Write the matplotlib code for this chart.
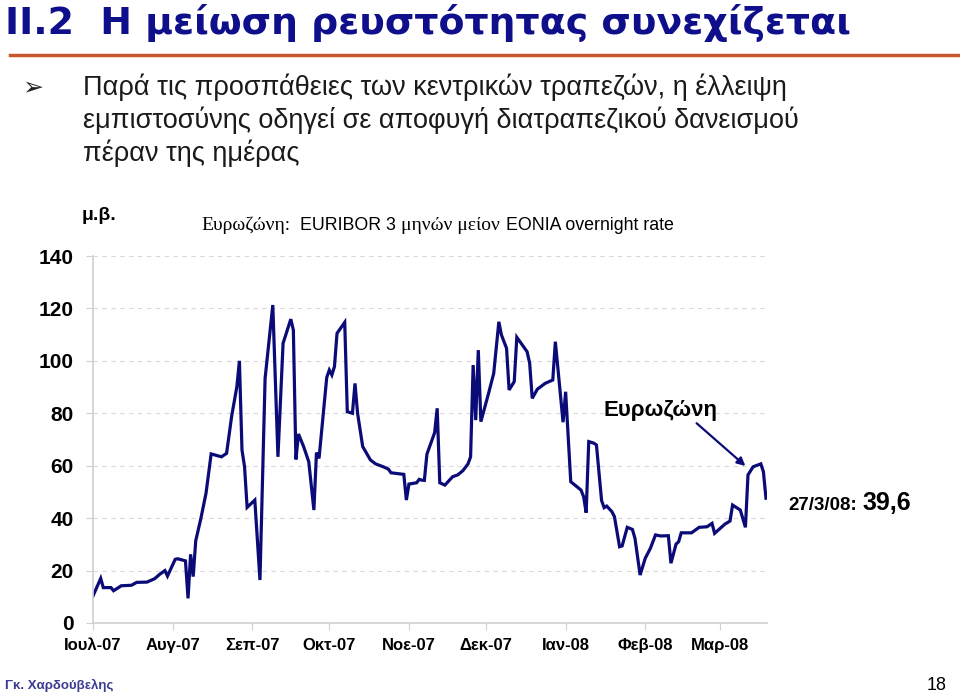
import matplotlib
matplotlib.use("Agg")
import matplotlib.pyplot as plt
import matplotlib.dates as mdates
import pandas as pd

# ---------------------------------------------------------------------------
# Data: EURIBOR 3M minus EONIA spread, basis points
# ---------------------------------------------------------------------------
dates = [
    "2007-07-01", "2007-07-04", "2007-07-05", "2007-07-08", "2007-07-09",
    "2007-07-12", "2007-07-16", "2007-07-18", "2007-07-22", "2007-07-25",
    "2007-07-27", "2007-07-29", "2007-07-30", "2007-08-02", "2007-08-03",
    "2007-08-06", "2007-08-07", "2007-08-08", "2007-08-09", "2007-08-10",
    "2007-08-12", "2007-08-14", "2007-08-16", "2007-08-20", "2007-08-22",
    "2007-08-24", "2007-08-26", "2007-08-27", "2007-08-28", "2007-08-29",
    "2007-08-30", "2007-09-02", "2007-09-04", "2007-09-06", "2007-09-09",
    "2007-09-11", "2007-09-13", "2007-09-16", "2007-09-17", "2007-09-18",
    "2007-09-19", "2007-09-21", "2007-09-23", "2007-09-25", "2007-09-26",
    "2007-09-27", "2007-09-30", "2007-10-01", "2007-10-02", "2007-10-03",
    "2007-10-04", "2007-10-07", "2007-10-08", "2007-10-10", "2007-10-11",
    "2007-10-12", "2007-10-14", "2007-10-17", "2007-10-19", "2007-10-22",
    "2007-10-24", "2007-10-25", "2007-10-30", "2007-10-31", "2007-11-01",
    "2007-11-04", "2007-11-05", "2007-11-06", "2007-11-07", "2007-11-08",
    "2007-11-11", "2007-11-12", "2007-11-13", "2007-11-15", "2007-11-18",
    "2007-11-20", "2007-11-22", "2007-11-24", "2007-11-25", "2007-11-26",
    "2007-11-27", "2007-11-28", "2007-11-29", "2007-12-02", "2007-12-04",
    "2007-12-06", "2007-12-07", "2007-12-09", "2007-12-10", "2007-12-12",
    "2007-12-13", "2007-12-17", "2007-12-18", "2007-12-19", "2007-12-21",
    "2007-12-24", "2007-12-27", "2007-12-28", "2007-12-31", "2008-01-01",
    "2008-01-03", "2008-01-07", "2008-01-08", "2008-01-09", "2008-01-10",
    "2008-01-12", "2008-01-13", "2008-01-15", "2008-01-16", "2008-01-17",
    "2008-01-19", "2008-01-20", "2008-01-22", "2008-01-23", "2008-01-25",
    "2008-01-27", "2008-01-28", "2008-01-30", "2008-02-01", "2008-02-03",
    "2008-02-05", "2008-02-07", "2008-02-10", "2008-02-11", "2008-02-13",
    "2008-02-14", "2008-02-15", "2008-02-19", "2008-02-22", "2008-02-25",
    "2008-02-27", "2008-02-28", "2008-03-03", "2008-03-05", "2008-03-06",
    "2008-03-09", "2008-03-11", "2008-03-12", "2008-03-14", "2008-03-17",
    "2008-03-18", "2008-03-19",
]
spread_bp = [
    10.3, 17.0, 13.5, 13.5, 12.3,
    14.2, 14.4, 15.5, 15.6, 16.9,
    18.6, 20.0, 17.9, 24.3, 24.5,
    23.7, 9.4, 26.2, 17.7, 31.4,
    39.9, 49.5, 64.5, 63.4, 64.7,
    79.0, 90.1, 100.0, 66.0, 59.6,
    44.1, 46.9, 16.4, 93.3, 121.3,
    63.4, 106.7, 115.9, 111.8, 62.4,
    72.1, 67.3, 61.5, 43.1, 65.0,
    62.8, 93.7, 96.5, 94.6, 97.8,
    110.5, 114.7, 80.6, 80.0, 91.4,
    80.0, 67.3, 62.2, 60.7, 59.6,
    58.7, 57.3, 56.7, 46.9, 53.0,
    53.5, 54.8, 54.5, 54.4, 64.4,
    72.6, 81.9, 53.5, 52.6, 55.8,
    56.5, 58.1, 60.7, 63.4, 98.4,
    77.4, 104.1, 76.8, 87.6, 95.2,
    114.9, 109.9, 104.8, 88.9, 92.1,
    109.0, 103.5, 99.1, 85.7, 89.2,
    91.4, 92.7, 107.3, 76.6, 88.2,
    53.9, 50.7, 48.2, 42.1, 69.2,
    68.6, 67.9, 46.7, 44.0, 44.6,
    42.5, 40.6, 29.1, 29.4, 36.5,
    35.7, 32.3, 18.3, 24.7, 28.5,
    33.6, 33.2, 33.3, 22.8, 30.1,
    31.0, 34.4, 34.4, 36.5, 36.7,
    38.0, 34.2, 37.7, 38.9, 45.0,
    43.1, 36.5, 56.5, 59.6, 60.7,
    57.7, 47.6,
]

tick_dates = ["2007-07-01", "2007-08-01", "2007-09-01", "2007-10-01",
              "2007-11-01", "2007-12-01", "2008-01-01", "2008-02-01",
              "2008-03-01"]
tick_labels = ["Ιουλ-07", "Αυγ-07", "Σεπ-07", "Οκτ-07", "Νοε-07",
               "Δεκ-07", "Ιαν-08", "Φεβ-08", "Μαρ-08"]
y_ticks = [0, 20, 40, 60, 80, 100, 120, 140]

LINE = "#0b0b78"
TITLE = "#0f0f8c"
SANS = ["Liberation Sans", "DejaVu Sans"]
SERIF = ["Liberation Serif", "DejaVu Serif"]

x = pd.to_datetime(dates)

fig = plt.figure(figsize=(9.6, 6.93), dpi=100)
fig.patch.set_facecolor("white")

# -- header -----------------------------------------------------------------
fig.text(5 / 960, 1 - 34 / 693, "ΙΙ.2  Η μείωση ρευστότητας συνεχίζεται",
         family=["DejaVu Sans"], fontsize=27.3, fontweight="bold",
         color=TITLE, va="baseline", ha="left")
fig.add_artist(plt.Line2D([10 / 960, 1.0], [1 - 55 / 693, 1 - 55 / 693],
                          color="#c9572c", linewidth=2.5))
fig.text(22 / 960, 1 - 87 / 693, "➢", family=["DejaVu Sans"], fontsize=18,
         color="#222222", va="center", ha="left")
bullet_lines = ["Παρά τις προσπάθειες των κεντρικών τραπεζών, η έλλειψη",
                "εμπιστοσύνης οδηγεί σε αποφυγή διατραπεζικού δανεισμού",
                "πέραν της ημέρας"]
for i, line in enumerate(bullet_lines):
    fig.text(83 / 960, 1 - (95 + 33 * i) / 693, line, family=SANS,
             fontsize=19.5, color="#1a1a1a", va="baseline", ha="left")

# -- chart ------------------------------------------------------------------
ax = fig.add_axes([93 / 960, 70 / 693, 674 / 960, 367 / 693])
ax.plot(x, spread_bp, color=LINE, linewidth=2.3, solid_joinstyle="miter")

ax.set_ylim(0, 140)
ax.set_yticks(y_ticks)
ax.set_xlim(mdates.date2num(pd.Timestamp("2007-07-01")),
            mdates.date2num(pd.Timestamp("2008-03-19")) + 0.4)
ax.set_xticks(pd.to_datetime(tick_dates))
ax.set_xticklabels(tick_labels)

for lab in ax.get_yticklabels():
    lab.set_fontfamily(SANS)
    lab.set_fontsize(15)
    lab.set_fontweight("bold")
for lab in ax.get_xticklabels():
    lab.set_fontfamily(SANS)
    lab.set_fontsize(12)
    lab.set_fontweight("bold")

ax.grid(axis="y", color="#d9d9d9", linestyle=(0, (4, 4)), linewidth=0.8)
ax.set_axisbelow(True)
for side in ("top", "right"):
    ax.spines[side].set_visible(False)
for side in ("left", "bottom"):
    ax.spines[side].set_color("#d0d0d0")
    ax.spines[side].set_linewidth(1.2)
ax.tick_params(axis="y", length=5, color="#d0d0d0", pad=9, labelcolor="black")
ax.tick_params(axis="x", length=5, color="#d0d0d0", pad=6, labelcolor="black")

# chart caption, mixed serif / sans like the original slide
fig.text(82 / 960, 1 - 216 / 693, "μ.β.", family=SANS, fontsize=14,
         fontweight="bold", va="center", ha="left")
cap_y = 1 - 225 / 693
fig.text(201 / 960, cap_y, "Ευρωζώνη:", family=SERIF, fontsize=14,
         va="center", ha="left")
fig.text(300 / 960, cap_y, "EURIBOR 3", family=SANS, fontsize=12.8,
         va="center", ha="left")
fig.text(401 / 960, cap_y, "μηνών μείον", family=SERIF, fontsize=14,
         va="center", ha="left")
fig.text(506 / 960, cap_y, "EONIA overnight rate", family=SANS,
         fontsize=12.8, va="center", ha="left")

# series label with arrow
ax.text(mdates.date2num(pd.Timestamp("2008-02-07")), 81, "Ευρωζώνη",
        family=SANS, fontsize=16, fontweight="bold", ha="center",
        va="center")
ax.annotate("", xy=(mdates.date2num(pd.Timestamp("2008-03-11")), 59.9),
            xytext=(mdates.date2num(pd.Timestamp("2008-02-21")), 76.2),
            arrowprops=dict(arrowstyle="-|>", color=LINE, lw=1.6,
                            mutation_scale=12, shrinkA=0, shrinkB=0))

fig.text(788 / 960, 1 - 510 / 693, "27/3/08:", family=SANS, fontsize=13.5,
         fontweight="bold", va="baseline", ha="left")
fig.text(862 / 960, 1 - 510 / 693, "39,6", family=SANS, fontsize=18,
         fontweight="bold", va="baseline", ha="left")

# -- footer -----------------------------------------------------------------
fig.text(5 / 960, 1 - 685 / 693, "Γκ. Χαρδούβελης", family=SANS,
         fontsize=9.5, fontweight="bold", color="#3a3a90", va="center",
         ha="left")
fig.text(947 / 960, 1 - 686 / 693, "18", family=SANS, fontsize=13,
         va="center", ha="right")

fig.savefig("out.png", dpi=100, facecolor="white")
